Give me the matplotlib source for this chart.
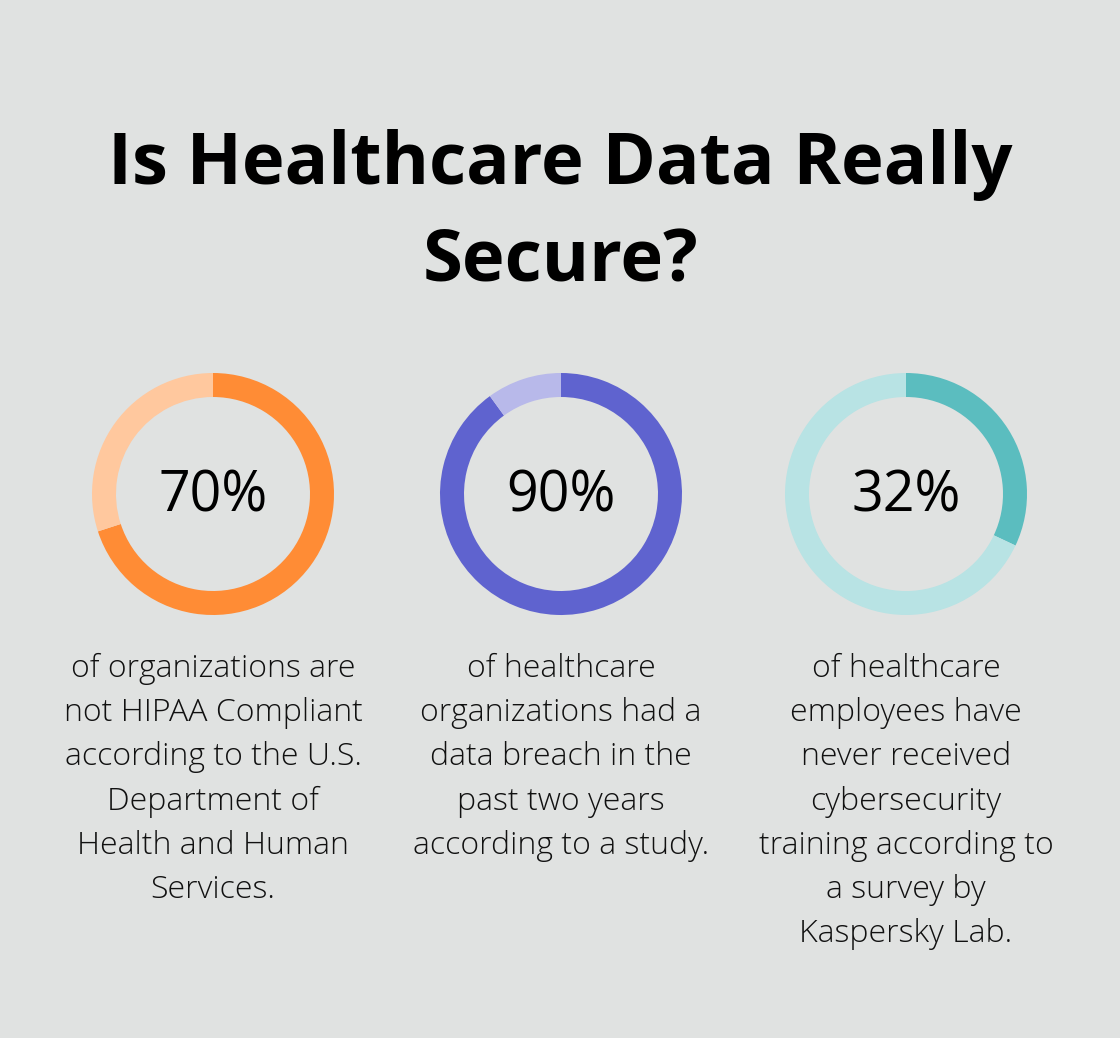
import matplotlib
matplotlib.use("Agg")
import matplotlib.pyplot as plt
from matplotlib.patches import Wedge

title_lines = ["Is Healthcare Data Really", "Secure?"]
values = [70, 90, 32]
labels = ["70%", "90%", "32%"]
descriptions = [
    ["of organizations are", "not HIPAA Compliant", "according to the U.S.", "Department of",
     "Health and Human", "Services."],
    ["of healthcare", "organizations had a", "data breach in the", "past two years",
     "according to a study."],
    ["of healthcare", "employees have", "never received", "cybersecurity",
     "training according to", "a survey by", "Kaspersky Lab."],
]
main_colors = ["#FF8C35", "#5F63CF", "#5BBDBF"]
light_colors = ["#FFC89E", "#B8B9EA", "#B8E3E4"]

W, H = 1120, 1038
fig = plt.figure(figsize=(W / 100, H / 100), dpi=100)
bg = "#E0E2E1"
fig.patch.set_facecolor(bg)
ax = fig.add_axes([0, 0, 1, 1])
ax.set_xlim(0, W)
ax.set_ylim(H, 0)
ax.set_aspect("equal")
ax.axis("off")
ax.set_facecolor(bg)

for i, line in enumerate(title_lines):
    ax.text(560, 184 + 98 * i, line, ha="center", va="baseline", fontsize=52, fontweight="bold",
            family="Open Sans", color="#000000")

centers = [213, 561, 906]
cy = 494
r_out = 121
width = 24
for cx, v, lab, desc, mc, lc in zip(centers, values, labels, descriptions, main_colors, light_colors):
    end_angle = 90
    start_angle = 90 - 360 * v / 100
    ax.add_patch(Wedge((cx, cy), r_out, -end_angle, -start_angle, width=width, facecolor=mc, edgecolor="none"))
    ax.add_patch(Wedge((cx, cy), r_out, -start_angle, 360 - end_angle, width=width, facecolor=lc, edgecolor="none"))
    ax.text(cx, 512, lab, ha="center", va="baseline", fontsize=40, family="Open Sans", color="#000000")
    for j, line in enumerate(desc):
        ax.text(cx, 677 + 44.2 * j, line, ha="center", va="baseline", fontsize=23, family="Open Sans",
                fontweight="light", color="#111111")

fig.savefig("out.png", dpi=100, facecolor=bg)
